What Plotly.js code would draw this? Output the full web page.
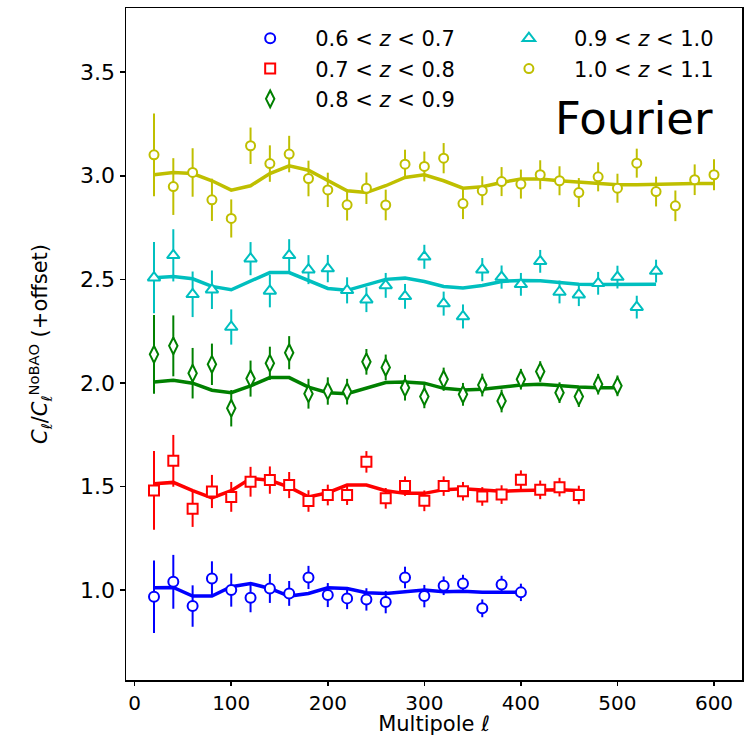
<!DOCTYPE html>
<html>
<head>
<meta charset="utf-8">
<script src="https://cdn.plot.ly/plotly-3.0.1.min.js"></script>
<style>html,body{margin:0;padding:0;background:#fff;}#plot{width:744px;height:736px;}</style>
</head>
<body>
<div id="plot"></div>
<script>
// Multipole bins
const ell = [20,40,60,80,100,120,140,160,180,200,220,240,260,280,300,320,340,360,380,400,420,440,460,480,500,520,540,560,580,600];

// 0.6 < z < 0.7
const blueVal = [0.968,1.040,0.923,1.056,1.000,0.963,1.008,0.984,1.061,0.976,0.960,0.955,0.942,1.061,0.971,1.021,1.032,0.912,1.027,0.989];
const blueErr = [0.175,0.130,0.100,0.083,0.080,0.070,0.070,0.060,0.056,0.058,0.052,0.054,0.054,0.052,0.054,0.045,0.042,0.043,0.042,0.042];
const blueModel = [1.011,1.013,0.971,0.971,1.016,1.032,1.008,0.971,0.984,1.011,1.008,0.987,0.984,0.992,1.000,0.992,0.994,0.989,0.989,0.989];

// 0.7 < z < 0.8
const redVal = [1.481,1.624,1.393,1.476,1.450,1.523,1.531,1.507,1.430,1.459,1.459,1.619,1.443,1.502,1.431,1.502,1.477,1.452,1.461,1.533,1.484,1.497,1.459];
const redErr = [0.190,0.125,0.088,0.080,0.072,0.072,0.066,0.063,0.052,0.050,0.048,0.052,0.050,0.047,0.050,0.047,0.045,0.045,0.045,0.045,0.045,0.045,0.045];
const redModel = [1.513,1.520,1.480,1.445,1.480,1.539,1.530,1.497,1.450,1.470,1.507,1.507,1.480,1.467,1.467,1.485,1.489,1.481,1.477,1.481,1.484,1.484,1.481];

// 0.8 < z < 0.9
const greenVal = [2.138,2.179,2.047,2.090,1.878,2.021,2.095,2.146,1.948,1.961,1.958,2.102,2.075,1.977,1.934,2.018,1.945,1.990,1.913,2.018,2.055,1.953,1.934,1.994,1.986];
const greenErr = [0.190,0.147,0.122,0.100,0.088,0.087,0.080,0.080,0.072,0.066,0.062,0.062,0.062,0.062,0.056,0.056,0.055,0.055,0.055,0.050,0.050,0.050,0.050,0.050,0.050];
const greenModel = [2.005,2.013,1.999,1.965,1.953,1.986,2.026,2.026,1.980,1.953,1.948,1.974,2.002,2.005,1.999,1.974,1.966,1.970,1.980,1.990,1.994,1.986,1.980,1.977,1.977];

// 0.9 < z < 1.0
const cyanVal = [2.508,2.616,2.428,2.450,2.270,2.600,2.444,2.616,2.547,2.552,2.447,2.402,2.471,2.418,2.609,2.383,2.321,2.547,2.511,2.476,2.587,2.439,2.426,2.481,2.511,2.366,2.540];
const cyanErr = [0.172,0.126,0.110,0.093,0.085,0.080,0.079,0.078,0.070,0.066,0.063,0.060,0.060,0.060,0.058,0.058,0.058,0.056,0.056,0.055,0.055,0.055,0.055,0.055,0.055,0.055,0.055];
const cyanModel = [2.508,2.514,2.503,2.466,2.450,2.490,2.533,2.533,2.496,2.456,2.447,2.474,2.500,2.506,2.490,2.466,2.458,2.470,2.490,2.495,2.493,2.485,2.476,2.475,2.477,2.477,2.477];

// 1.0 < z < 1.1
const yellowVal = [3.101,2.948,3.016,2.884,2.794,3.145,3.059,3.105,2.987,2.932,2.860,2.940,2.859,3.056,3.045,3.085,2.866,2.928,2.972,2.960,3.005,2.976,2.919,2.995,2.940,3.061,2.924,2.855,2.981,3.005];
const yellowErr = [0.200,0.137,0.117,0.102,0.092,0.088,0.088,0.088,0.086,0.083,0.076,0.076,0.074,0.070,0.072,0.073,0.075,0.070,0.070,0.070,0.070,0.070,0.070,0.070,0.070,0.070,0.072,0.074,0.074,0.075];
const yellowModel = [3.005,3.016,3.011,2.976,2.931,2.952,3.011,3.048,3.027,2.976,2.928,2.919,2.952,2.992,3.005,2.976,2.940,2.947,2.968,2.984,2.984,2.976,2.971,2.963,2.957,2.957,2.960,2.963,2.963,2.963];

const labels = ['0.6 &lt; <i>z</i> &lt; 0.7','0.7 &lt; <i>z</i> &lt; 0.8','0.8 &lt; <i>z</i> &lt; 0.9','0.9 &lt; <i>z</i> &lt; 1.0','1.0 &lt; <i>z</i> &lt; 1.1'];
const yTicks = [1.0,1.5,2.0,2.5,3.0,3.5];
const xTicks = [0,100,200,300,400,500,600];

const series = [
  {val: blueVal, err: blueErr, model: blueModel, color: '#0000ff', symbol: 'circle', size: 10, leg: 'legend'},
  {val: redVal, err: redErr, model: redModel, color: '#ff0000', symbol: 'square', size: 10, leg: 'legend'},
  {val: greenVal, err: greenErr, model: greenModel, color: '#008000', symbol: 'diamond-tall', size: 12, leg: 'legend'},
  {val: cyanVal, err: cyanErr, model: cyanModel, color: '#00bfbf', symbol: 'triangle-up', size: 11, leg: 'legend2'},
  {val: yellowVal, err: yellowErr, model: yellowModel, color: '#bfbf00', symbol: 'circle', size: 9, leg: 'legend2'}
];

const traces = [];
series.forEach((s) => {
  traces.push({
    x: ell.slice(0, s.model.length), y: s.model, type: 'scatter', mode: 'lines',
    line: {color: s.color, width: 3.5}, showlegend: false, hoverinfo: 'skip'
  });
});
series.forEach((s, i) => {
  traces.push({
    x: ell.slice(0, s.val.length), y: s.val, type: 'scatter', mode: 'markers',
    name: labels[i], legend: s.leg,
    marker: {symbol: s.symbol, size: s.size, color: '#ffffff', line: {color: s.color, width: 2}},
    error_y: {type: 'data', array: s.err, visible: true, color: s.color, thickness: 2, width: 0}
  });
});

const font = {family: 'DejaVu Sans, sans-serif', color: '#000000'};
const legendBase = {
  orientation: 'v', xanchor: 'left', y: 0.985, yanchor: 'top',
  itemwidth: 80, tracegroupgap: 0, traceorder: 'normal',
  bgcolor: 'rgba(0,0,0,0)', font: Object.assign({size: 21}, font)
};

const layout = {
  width: 744, height: 736,
  margin: {l: 126, r: 2, t: 8, b: 56},
  paper_bgcolor: '#ffffff', plot_bgcolor: '#ffffff',
  showlegend: true,
  legend: Object.assign({x: 0.161}, legendBase),
  legend2: Object.assign({x: 0.581}, legendBase),
  xaxis: {
    range: [-9, 629], tickvals: xTicks, ticktext: xTicks.map(String),
    showline: true, mirror: true, linecolor: '#000', linewidth: 1.5,
    ticks: 'outside', ticklen: 4, tickwidth: 1.5, tickcolor: '#000',
    showgrid: false, zeroline: false,
    tickfont: Object.assign({size: 20}, font),
    title: {text: 'Multipole <i>ℓ</i>', font: Object.assign({size: 21}, font), standoff: 2}
  },
  yaxis: {
    range: [0.566, 3.81], tickvals: yTicks, ticktext: yTicks.map(v => v.toFixed(1)),
    showline: true, mirror: true, linecolor: '#000', linewidth: 1.5,
    ticks: 'outside', ticklen: 5, tickwidth: 1.5, tickcolor: '#000',
    showgrid: false, zeroline: false,
    tickfont: Object.assign({size: 22}, font),
    title: {text: '<i>C</i><sub><i>ℓ</i></sub>/<i>C</i><sub><i>ℓ</i></sub><sup>NoBAO</sup> (+offset)', font: Object.assign({size: 21}, font), standoff: 26}
  },
  annotations: [{
    text: 'Fourier', xref: 'paper', yref: 'paper', x: 0.824, y: 0.836,
    xanchor: 'center', yanchor: 'middle', showarrow: false,
    font: {family: 'DejaVu Sans, sans-serif', size: 45, color: '#000'}
  }]
};

Plotly.newPlot('plot', traces, layout, {displayModeBar: false, staticPlot: true});
</script>
</body>
</html>
